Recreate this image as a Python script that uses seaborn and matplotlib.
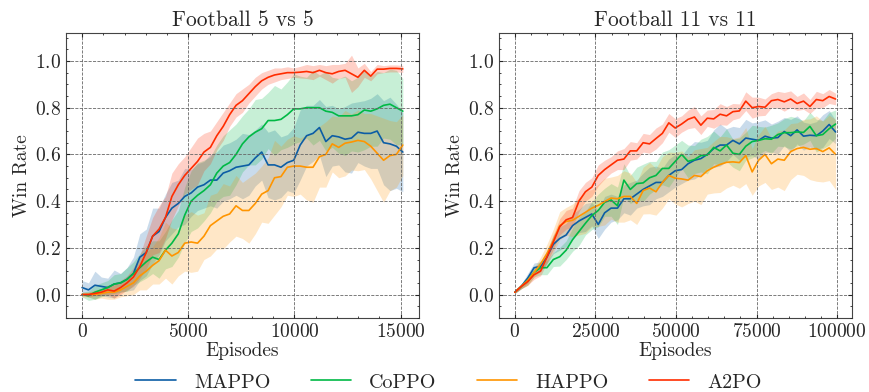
import numpy as np
import pandas as pd
import matplotlib
matplotlib.use("Agg")
import matplotlib.pyplot as plt
import seaborn as sns
from matplotlib.ticker import MultipleLocator

# Algoritmos e cores
algos = ['MAPPO', 'CoPPO', 'HAPPO', 'A2PO']
cores = ['#0C5DA5', '#00B945', '#FF9500', '#FF2C00']

# ---------------- Football 5 vs 5 ----------------
ep_5v5 = np.arange(51) * 302

mappo_5v5 = [0.03, 0.02, 0.04, 0.035, 0.03, 0.045, 0.05, 0.065, 0.09, 0.16,
             0.18, 0.25, 0.27, 0.33, 0.37, 0.39, 0.42, 0.435, 0.46, 0.47,
             0.49, 0.49, 0.52, 0.53, 0.545, 0.55, 0.555, 0.585, 0.61, 0.555,
             0.555, 0.545, 0.565, 0.575, 0.64, 0.68, 0.69, 0.715, 0.655, 0.68,
             0.675, 0.665, 0.67, 0.695, 0.69, 0.69, 0.70, 0.65, 0.645, 0.635, 0.61]
coppo_5v5 = [0.0, -0.005, 0.01, 0.02, 0.03, 0.045, 0.05, 0.065, 0.09, 0.115,
             0.14, 0.16, 0.15, 0.19, 0.22, 0.26, 0.34, 0.40, 0.425, 0.445,
             0.47, 0.52, 0.55, 0.565, 0.60, 0.645, 0.675, 0.695, 0.71, 0.745,
             0.745, 0.75, 0.77, 0.795, 0.795, 0.80, 0.80, 0.80, 0.785, 0.78,
             0.765, 0.765, 0.765, 0.77, 0.79, 0.785, 0.795, 0.81, 0.815, 0.80, 0.785]
happo_5v5 = [0.0, 0.0, 0.0, 0.005, 0.01, 0.01, 0.02, 0.035, 0.05, 0.08,
             0.10, 0.125, 0.145, 0.19, 0.165, 0.18, 0.22, 0.225, 0.22, 0.25,
             0.295, 0.315, 0.335, 0.345, 0.38, 0.36, 0.36, 0.39, 0.43, 0.445,
             0.50, 0.505, 0.545, 0.55, 0.55, 0.545, 0.545, 0.59, 0.60, 0.645,
             0.63, 0.648, 0.653, 0.66, 0.655, 0.635, 0.605, 0.575, 0.595, 0.60, 0.64]
a2po_5v5 = [0.0, 0.0, 0.005, 0.01, 0.02, 0.015, 0.03, 0.05, 0.075, 0.12,
            0.18, 0.25, 0.28, 0.33, 0.42, 0.47, 0.51, 0.54, 0.57, 0.61,
            0.63, 0.68, 0.72, 0.77, 0.81, 0.83, 0.86, 0.89, 0.915, 0.93,
            0.94, 0.945, 0.95, 0.95, 0.952, 0.955, 0.95, 0.96, 0.95, 0.945,
            0.955, 0.96, 0.945, 0.93, 0.96, 0.935, 0.965, 0.965, 0.968, 0.968, 0.966]

mappo_5v5_sd = [0.03, 0.03, 0.06, 0.04, 0.04, 0.06, 0.04, 0.05, 0.07, 0.10,
                0.10, 0.12, 0.10, 0.10, 0.11, 0.10, 0.12, 0.10, 0.10, 0.10,
                0.11, 0.12, 0.12, 0.12, 0.12, 0.14, 0.13, 0.12, 0.12, 0.14,
                0.15, 0.13, 0.12, 0.14, 0.15, 0.13, 0.12, 0.12, 0.15, 0.13,
                0.12, 0.14, 0.15, 0.13, 0.14, 0.15, 0.16, 0.18, 0.20, 0.18, 0.17]
coppo_5v5_sd = [0.01, 0.02, 0.03, 0.03, 0.03, 0.04, 0.04, 0.05, 0.05, 0.06,
                0.07, 0.07, 0.08, 0.08, 0.10, 0.10, 0.12, 0.13, 0.14, 0.13,
                0.12, 0.12, 0.13, 0.14, 0.13, 0.12, 0.12, 0.14, 0.13, 0.12,
                0.15, 0.13, 0.14, 0.15, 0.14, 0.13, 0.16, 0.14, 0.17, 0.15,
                0.16, 0.17, 0.15, 0.16, 0.17, 0.15, 0.16, 0.14, 0.15, 0.16, 0.14]
happo_5v5_sd = [0.01, 0.01, 0.02, 0.02, 0.03, 0.03, 0.03, 0.04, 0.05, 0.06,
                0.08, 0.08, 0.10, 0.12, 0.12, 0.10, 0.12, 0.13, 0.12, 0.10,
                0.13, 0.12, 0.14, 0.12, 0.13, 0.12, 0.14, 0.13, 0.12, 0.14,
                0.16, 0.13, 0.12, 0.13, 0.12, 0.14, 0.15, 0.13, 0.14, 0.12,
                0.13, 0.14, 0.12, 0.13, 0.12, 0.14, 0.16, 0.18, 0.15, 0.14, 0.13]
a2po_5v5_sd = [0.005, 0.01, 0.01, 0.015, 0.02, 0.03, 0.03, 0.03, 0.04, 0.05,
               0.07, 0.08, 0.10, 0.09, 0.10, 0.09, 0.08, 0.09, 0.10, 0.08,
               0.07, 0.06, 0.06, 0.05, 0.05, 0.05, 0.04, 0.04, 0.035, 0.03,
               0.03, 0.025, 0.025, 0.02, 0.025, 0.03, 0.03, 0.025, 0.03, 0.04,
               0.03, 0.03, 0.08, 0.04, 0.03, 0.02, 0.02, 0.015, 0.015, 0.015, 0.015]

# ---------------- Football 11 vs 11 ----------------
ep_11v11 = np.arange(51) * 1990

mappo_11v11 = [0.01, 0.035, 0.07, 0.115, 0.12, 0.16, 0.215, 0.24, 0.255, 0.295,
               0.315, 0.33, 0.345, 0.30, 0.35, 0.37, 0.37, 0.41, 0.41, 0.43,
               0.45, 0.465, 0.48, 0.48, 0.51, 0.53, 0.535, 0.56, 0.575, 0.582,
               0.60, 0.625, 0.64, 0.64, 0.66, 0.645, 0.67, 0.665, 0.66, 0.678,
               0.67, 0.672, 0.698, 0.68, 0.705, 0.678, 0.682, 0.68, 0.70, 0.728, 0.696]
coppo_11v11 = [0.01, 0.035, 0.06, 0.095, 0.115, 0.115, 0.15, 0.162, 0.19, 0.235,
               0.27, 0.305, 0.338, 0.36, 0.395, 0.405, 0.38, 0.49, 0.45, 0.475,
               0.478, 0.50, 0.51, 0.54, 0.54, 0.57, 0.60, 0.57, 0.578, 0.595,
               0.597, 0.63, 0.615, 0.64, 0.605, 0.60, 0.635, 0.655, 0.66, 0.667,
               0.665, 0.685, 0.693, 0.693, 0.696, 0.694, 0.72, 0.68, 0.685, 0.71, 0.73]
happo_11v11 = [0.01, 0.035, 0.06, 0.095, 0.13, 0.175, 0.23, 0.295, 0.313, 0.318,
               0.335, 0.352, 0.37, 0.382, 0.398, 0.413, 0.41, 0.42, 0.42, 0.39,
               0.445, 0.456, 0.44, 0.48, 0.51, 0.498, 0.495, 0.49, 0.51, 0.505,
               0.53, 0.545, 0.557, 0.566, 0.568, 0.565, 0.595, 0.525, 0.575, 0.60,
               0.56, 0.58, 0.575, 0.612, 0.625, 0.63, 0.622, 0.625, 0.612, 0.628, 0.60]
a2po_11v11 = [0.01, 0.035, 0.055, 0.085, 0.10, 0.16, 0.225, 0.29, 0.32, 0.33,
              0.40, 0.44, 0.46, 0.51, 0.535, 0.555, 0.575, 0.58, 0.615, 0.615,
              0.65, 0.645, 0.668, 0.69, 0.735, 0.713, 0.73, 0.75, 0.76, 0.725,
              0.755, 0.752, 0.772, 0.765, 0.783, 0.786, 0.828, 0.80, 0.805, 0.802,
              0.83, 0.835, 0.825, 0.837, 0.818, 0.828, 0.805, 0.835, 0.83, 0.848, 0.837]

mappo_11v11_sd = [0.005, 0.01, 0.02, 0.02, 0.02, 0.03, 0.04, 0.05, 0.05, 0.05,
                  0.05, 0.06, 0.05, 0.06, 0.07, 0.06, 0.05, 0.06, 0.07, 0.06,
                  0.07, 0.08, 0.07, 0.06, 0.07, 0.07, 0.06, 0.07, 0.08, 0.07,
                  0.06, 0.08, 0.09, 0.07, 0.06, 0.07, 0.08, 0.07, 0.08, 0.07,
                  0.06, 0.07, 0.06, 0.07, 0.06, 0.06, 0.05, 0.06, 0.07, 0.06, 0.05]
coppo_11v11_sd = [0.005, 0.01, 0.02, 0.02, 0.03, 0.03, 0.03, 0.04, 0.04, 0.05,
                  0.06, 0.05, 0.06, 0.07, 0.06, 0.07, 0.08, 0.07, 0.06, 0.07,
                  0.08, 0.07, 0.06, 0.07, 0.08, 0.07, 0.06, 0.07, 0.06, 0.07,
                  0.08, 0.07, 0.06, 0.07, 0.06, 0.07, 0.06, 0.07, 0.06, 0.05,
                  0.06, 0.05, 0.06, 0.07, 0.06, 0.05, 0.06, 0.07, 0.06, 0.07, 0.06]
happo_11v11_sd = [0.005, 0.01, 0.02, 0.02, 0.03, 0.04, 0.05, 0.06, 0.06, 0.07,
                  0.08, 0.09, 0.08, 0.09, 0.10, 0.09, 0.10, 0.11, 0.10, 0.09,
                  0.10, 0.11, 0.10, 0.11, 0.10, 0.11, 0.12, 0.10, 0.11, 0.12,
                  0.10, 0.11, 0.12, 0.11, 0.10, 0.11, 0.12, 0.10, 0.11, 0.12,
                  0.11, 0.12, 0.13, 0.12, 0.11, 0.12, 0.13, 0.14, 0.13, 0.14, 0.15]
a2po_11v11_sd = [0.005, 0.01, 0.015, 0.02, 0.02, 0.025, 0.03, 0.035, 0.04, 0.04,
                 0.045, 0.04, 0.04, 0.045, 0.04, 0.035, 0.04, 0.045, 0.04, 0.035,
                 0.04, 0.04, 0.045, 0.04, 0.04, 0.04, 0.035, 0.04, 0.045, 0.04,
                 0.035, 0.04, 0.045, 0.04, 0.035, 0.03, 0.04, 0.045, 0.04, 0.035,
                 0.03, 0.035, 0.04, 0.035, 0.03, 0.035, 0.03, 0.035, 0.03, 0.03, 0.025]

# Montar DataFrames (formato longo)
def montar_df(episodios, medias, desvios):
    linhas = []
    for nome, m, s in zip(algos, medias, desvios):
        linhas.append(pd.DataFrame({'Episodes': episodios, 'Win Rate': m,
                                    'sd': s, 'Algoritmo': nome}))
    return pd.concat(linhas, ignore_index=True)

df_5v5 = montar_df(ep_5v5, [mappo_5v5, coppo_5v5, happo_5v5, a2po_5v5],
                   [mappo_5v5_sd, coppo_5v5_sd, happo_5v5_sd, a2po_5v5_sd])
df_11v11 = montar_df(ep_11v11, [mappo_11v11, coppo_11v11, happo_11v11, a2po_11v11],
                     [mappo_11v11_sd, coppo_11v11_sd, happo_11v11_sd, a2po_11v11_sd])

# Estilo tipo "science"
sns.set_style('ticks')
plt.rcParams.update({
    'font.family': 'serif',
    'font.serif': ['cmr10', 'DejaVu Serif'],
    'mathtext.fontset': 'cm',
    'axes.formatter.use_mathtext': True,
    'axes.unicode_minus': False,
    'xtick.direction': 'in',
    'ytick.direction': 'in',
    'xtick.top': True,
    'ytick.right': True,
    'xtick.minor.visible': True,
    'ytick.minor.visible': True,
    'xtick.major.size': 3,
    'ytick.major.size': 3,
    'xtick.minor.size': 1.5,
    'ytick.minor.size': 1.5,
    'axes.linewidth': 0.8,
    'axes.edgecolor': '#444444',
})

fig = plt.figure(figsize=(8.69, 3.92), dpi=100)
ax1 = fig.add_axes([0.076, 0.189, 0.406, 0.727])
ax2 = fig.add_axes([0.574, 0.189, 0.406, 0.727])

paleta = dict(zip(algos, cores))
for ax, df, titulo, maj, mnr in [(ax1, df_5v5, 'Football 5 vs 5', 5000, 1000),
                                 (ax2, df_11v11, 'Football 11 vs 11', 25000, 5000)]:
    for nome in algos:
        d = df[df['Algoritmo'] == nome]
        ax.fill_between(d['Episodes'], d['Win Rate'] - d['sd'], d['Win Rate'] + d['sd'],
                        color=paleta[nome], alpha=0.22, linewidth=0)
    sns.lineplot(data=df, x='Episodes', y='Win Rate', hue='Algoritmo', palette=paleta,
                 hue_order=algos, linewidth=1.2, ax=ax, legend=(ax is ax1))
    ax.set_ylim(-0.1, 1.12)
    ax.yaxis.set_major_locator(MultipleLocator(0.2))
    ax.yaxis.set_minor_locator(MultipleLocator(0.05))
    ax.xaxis.set_major_locator(MultipleLocator(maj))
    ax.xaxis.set_minor_locator(MultipleLocator(mnr))
    ax.grid(True, which='major', linestyle='--', linewidth=0.6, color='#666666')
    ax.set_title(titulo, fontsize=15.5, pad=5)
    ax.set_xlabel('Episodes', fontsize=14, labelpad=1)
    ax.set_ylabel('Win Rate', fontsize=14, labelpad=3)
    ax.tick_params(labelsize=14)
    ax.set_axisbelow(False)

handles, labels = ax1.get_legend_handles_labels()
ax1.get_legend().remove()
fig.legend(handles, labels, loc='lower center', bbox_to_anchor=(0.516, -0.045), ncol=4,
           frameon=False, fontsize=14.5, handlelength=2.0, handletextpad=0.9,
           columnspacing=2.0)

plt.savefig('out.png', dpi=100)
